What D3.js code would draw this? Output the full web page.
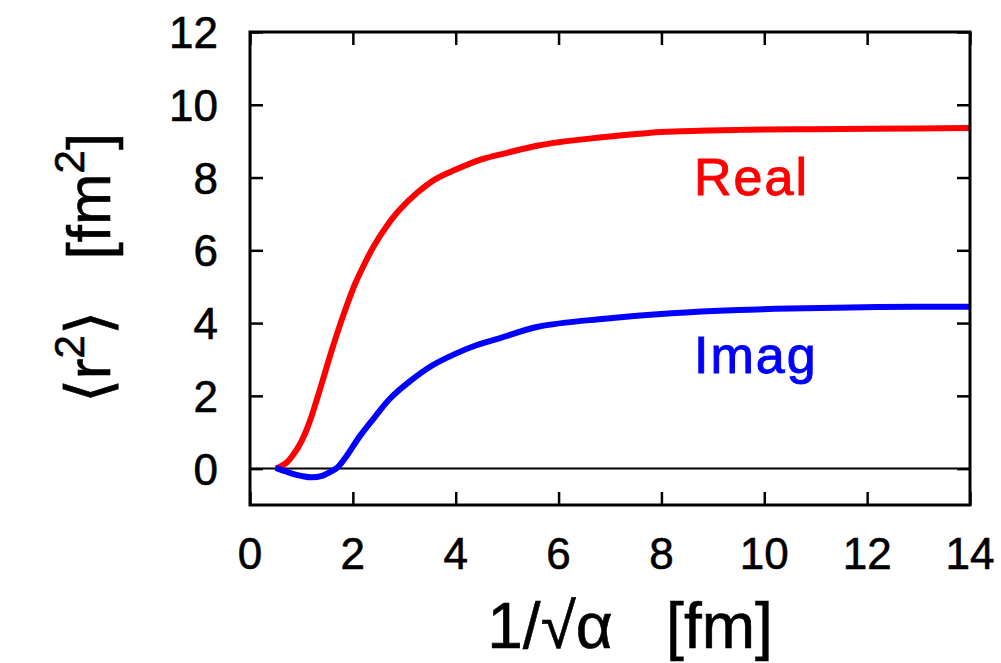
<!DOCTYPE html>
<html>
<head>
<meta charset="utf-8">
<script src="https://cdn.jsdelivr.net/npm/d3@7"></script>
<style>
  html, body { margin: 0; padding: 0; background: #fff; }
  svg { display: block; }
  text { font-family: "Liberation Sans", Arial, Helvetica, sans-serif; }
</style>
</head>
<body>
<svg id="chart" width="1001" height="663"></svg>
<script>
// ---- data ----
const realX = [0.5, 0.7, 0.85, 1.0, 1.15, 1.3, 1.45, 1.6, 1.75, 1.9, 2.05, 2.2, 2.4, 2.65, 2.9, 3.25, 3.6, 4.0, 4.5, 5.0, 5.6, 6.0, 6.6, 7.0, 7.7, 8.0, 8.9, 9.5, 10, 11, 12, 13, 14];
const realY = [0.0, 0.15, 0.4, 0.75, 1.25, 1.9, 2.6, 3.3, 3.95, 4.55, 5.1, 5.55, 6.1, 6.65, 7.1, 7.58, 7.95, 8.22, 8.5, 8.68, 8.88, 8.97, 9.07, 9.13, 9.22, 9.25, 9.29, 9.31, 9.32, 9.33, 9.34, 9.35, 9.36];
const imagX = [0.5, 0.7, 0.85, 1.0, 1.2, 1.4, 1.55, 1.7, 1.88, 2.14, 2.4, 2.72, 3.1, 3.55, 4.0, 4.4, 4.85, 5.6, 6.9, 8.2, 9.5, 10.5, 12.2, 14];
const imagY = [0.02, -0.08, -0.15, -0.2, -0.24, -0.2, -0.1, 0.03, 0.35, 0.9, 1.37, 1.92, 2.39, 2.84, 3.16, 3.39, 3.58, 3.9, 4.12, 4.27, 4.36, 4.4, 4.44, 4.45];
const xTicks = [0, 2, 4, 6, 8, 10, 12, 14];
const yTicks = [0, 2, 4, 6, 8, 10, 12];
const xDomain = [0, 14];
const yDomain = [-1, 12];

const svg = d3.select("#chart");
const L = 250, R = 970, T = 32, B = 505;

const x = d3.scaleLinear().domain(xDomain).range([L, R]);
const y = d3.scaleLinear().domain(yDomain).range([B, T]);

svg.append("defs").append("clipPath").attr("id", "clip")
  .append("rect").attr("x", L).attr("y", T).attr("width", R - L).attr("height", B - T);

// zero line
svg.append("line")
  .attr("x1", L).attr("x2", R).attr("y1", y(0)).attr("y2", y(0))
  .attr("stroke", "#000").attr("stroke-width", 2);

// curves
const line = d3.line().x(d => x(d[0])).y(d => y(d[1])).curve(d3.curveCatmullRom.alpha(0.5));
const g = svg.append("g").attr("clip-path", "url(#clip)");
g.append("path").datum(realX.map((v, i) => [v, realY[i]]))
  .attr("d", line).attr("fill", "none").attr("stroke", "#ff0000").attr("stroke-width", 6);
g.append("path").datum(imagX.map((v, i) => [v, imagY[i]]))
  .attr("d", line).attr("fill", "none").attr("stroke", "#0000ff").attr("stroke-width", 6);

// axes with inward ticks (mirrored)
const tk = 13;
const axB = d3.axisBottom(x).tickValues(xTicks).tickSize(-tk).tickFormat("");
const axT = d3.axisTop(x).tickValues(xTicks).tickSize(-tk).tickFormat("");
const axL = d3.axisLeft(y).tickValues(yTicks).tickSize(-tk).tickFormat("");
const axR = d3.axisRight(y).tickValues(yTicks).tickSize(-tk).tickFormat("");
[[axB, `translate(0,${B})`], [axT, `translate(0,${T})`], [axL, `translate(${L},0)`], [axR, `translate(${R},0)`]]
  .forEach(([ax, tr]) => {
    const a = svg.append("g").attr("transform", tr).call(ax);
    a.select(".domain").remove();
    a.selectAll(".tick line").attr("stroke", "#000").attr("stroke-width", 2.5);
  });

// frame
svg.append("rect").attr("x", L).attr("y", T).attr("width", R - L).attr("height", B - T)
  .attr("fill", "none").attr("stroke", "#000").attr("stroke-width", 3);

// tick labels
svg.append("g").selectAll("text").data(xTicks).join("text")
  .attr("x", d => x(d)).attr("y", 569)
  .attr("text-anchor", "middle").attr("font-size", 44).attr("fill", "#000")
  .attr("stroke", "#000").attr("stroke-width", 0.6)
  .text(d => d);
svg.append("g").selectAll("text").data(yTicks).join("text")
  .attr("x", 218).attr("y", d => y(d) + 16)
  .attr("text-anchor", "end").attr("font-size", 44).attr("fill", "#000")
  .attr("stroke", "#000").attr("stroke-width", 0.6)
  .text(d => d);

// axis titles
const xt = svg.append("text").attr("x", 630).attr("y", 648)
  .attr("text-anchor", "middle").attr("font-size", 64).attr("fill", "#000")
  .attr("stroke", "#000").attr("stroke-width", 0.6);
xt.append("tspan").text("1/\u221A\u03B1\u00A0\u00A0\u00A0[fm]");

const yt = svg.append("text")
  .attr("transform", "translate(110,268) rotate(-90)")
  .attr("text-anchor", "middle").attr("font-size", 62).attr("fill", "#000")
  .attr("stroke", "#000").attr("stroke-width", 0.6);
yt.append("tspan").text("\u27E8r");
yt.append("tspan").attr("font-size", 42).attr("dy", -26).text("2");
yt.append("tspan").attr("dy", 26).text("\u27E9\u00A0\u00A0\u00A0[fm");
yt.append("tspan").attr("font-size", 42).attr("dy", -26).text("2");
yt.append("tspan").attr("dy", 26).text("]");

// series labels
svg.append("text").attr("x", 694).attr("y", 195)
  .attr("font-size", 52).attr("fill", "#ff0000").attr("stroke", "#ff0000").attr("stroke-width", 1)
  .attr("letter-spacing", 2).text("Real");
svg.append("text").attr("x", 694).attr("y", 373)
  .attr("font-size", 52).attr("fill", "#0000ff").attr("stroke", "#0000ff").attr("stroke-width", 1)
  .attr("letter-spacing", 2).text("Imag");
</script>
</body>
</html>
